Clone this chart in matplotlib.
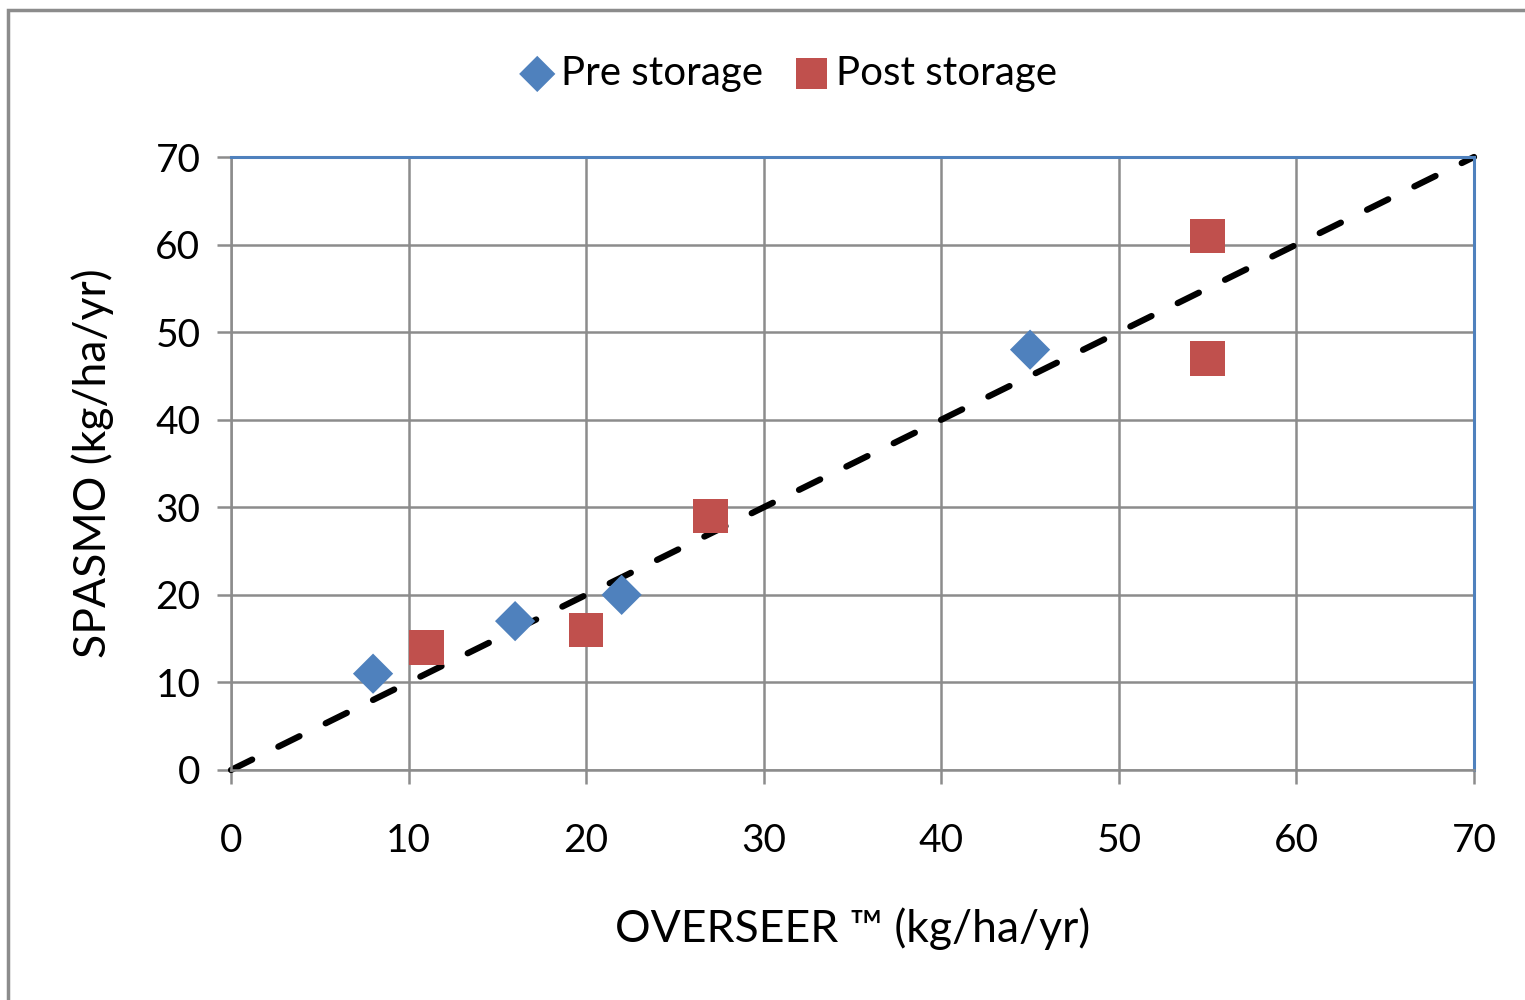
import matplotlib as mpl
import matplotlib.pyplot as plt
from matplotlib.patches import Rectangle

# data
pre_x = [8, 16, 22, 45]
pre_y = [11, 17, 20, 48]
post_x = [11, 20, 27, 55, 55]
post_y = [14, 16, 29, 61, 47]
line_xy = [0, 70]
ticks = list(range(0, 71, 10))

BLUE = "#4F81BD"
RED = "#C0504D"
GRID = "#8C8C8C"

mpl.rcParams.update({
    "font.family": ["Lato", "DejaVu Sans"],
    "lines.scale_dashes": False,
})

fig = plt.figure(figsize=(15.25, 10), dpi=100)
ax = fig.add_axes([231 / 1525, 1 - 770 / 1000, (1474 - 231) / 1525, (770 - 157) / 1000])

ax.grid(True, color=GRID, lw=1.8, zorder=0)
ax.set_axisbelow(True)

ax.plot(line_xy, line_xy, color="black", lw=4.5, dashes=(17, 21),
        dash_capstyle="round", zorder=2, clip_on=False)
ax.scatter(pre_x, pre_y, marker="D", s=420, color=BLUE, edgecolors="none",
           zorder=3, label="Pre storage")
ax.scatter(post_x, post_y, marker="s", s=620, color=RED, edgecolors="none",
           zorder=3, label="Post storage")

ax.set_xlim(0, 70)
ax.set_ylim(0, 70)
ax.set_xticks(ticks)
ax.set_yticks(ticks)
ax.tick_params(axis="both", labelsize=28, colors=GRID, labelcolor="black",
               width=1.8, length=10, direction="out")
ax.tick_params(axis="x", pad=28)
ax.tick_params(axis="y", pad=12)

for s in ("left", "bottom"):
    ax.spines[s].set_color(GRID)
    ax.spines[s].set_linewidth(1.8)
for s in ("top", "right"):
    ax.spines[s].set_color(BLUE)
    ax.spines[s].set_linewidth(2.2)

ax.set_xlabel("OVERSEER \u2122 (kg/ha/yr)", fontsize=32, labelpad=35)
ax.set_ylabel("SPASMO (kg/ha/yr)", fontsize=32, labelpad=30)

fig.legend(loc="center", bbox_to_anchor=(785 / 1525, 1 - 73 / 1000), ncol=2,
           frameon=False, fontsize=29, handletextpad=0.0, handlelength=1.2,
           columnspacing=0.6, scatterpoints=1, markerscale=0.9)

# outer chart frame
fig.patches.append(Rectangle((8 / 1525, -0.1), 1.2, 1 - 10 / 1000 + 0.1,
                             transform=fig.transFigure, fill=False,
                             edgecolor="#8C8C8C", lw=2.5))

fig.savefig("out.png", dpi=100)
